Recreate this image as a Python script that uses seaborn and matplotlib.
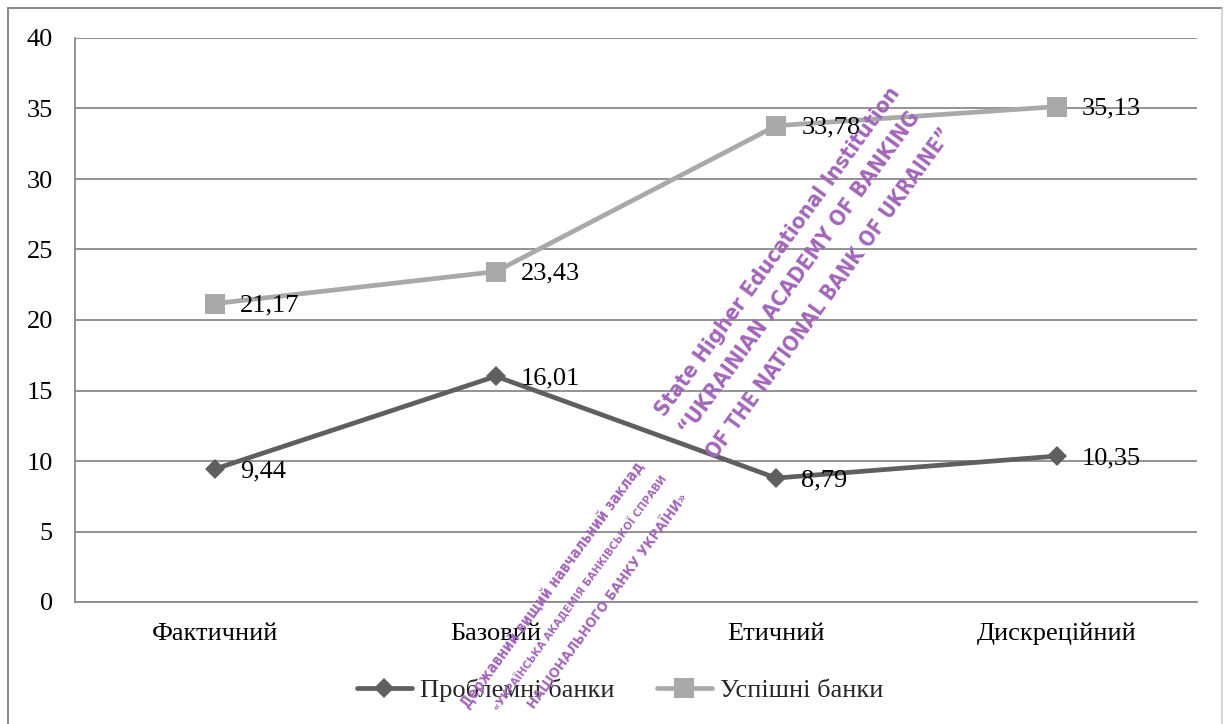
import matplotlib
matplotlib.use("Agg")
import os
import matplotlib.pyplot as plt
import seaborn as sns
import pandas as pd
from matplotlib.lines import Line2D
from matplotlib import font_manager as fm

categories = ["Фактичний", "Базовий", "Етичний", "Дискреційний"]
problem_banks = [9.44, 16.01, 8.79, 10.35]
success_banks = [21.17, 23.43, 33.78, 35.13]
series_names = ["Проблемні банки", "Успішні банки"]
yticks = [0, 5, 10, 15, 20, 25, 30, 35, 40]

sns.set_theme(style="white")
plt.rcParams['font.family'] = ['Liberation Serif', 'DejaVu Serif']

W, H = 1225, 724
fig = plt.figure(figsize=(W / 100, H / 100), dpi=100)
ax = fig.add_axes([75 / W, 1 - 602 / H, (1197 - 75) / W, (602 - 38) / H])

df = pd.DataFrame({
    "val": problem_banks + success_banks,
    "series": [series_names[0]] * 4 + [series_names[1]] * 4,
})
df["x"] = list(range(4)) * 2

dark = "#5f5f5f"
light = "#a9a9a9"
sns.lineplot(data=df[df.series == series_names[0]], x="x", y="val", ax=ax,
             color=dark, lw=3.4, marker="D", markersize=10, markeredgewidth=0,
             sort=False, legend=False, zorder=4)
sns.lineplot(data=df[df.series == series_names[1]], x="x", y="val", ax=ax,
             color=light, lw=3.4, marker="s", markersize=14, markeredgewidth=0,
             sort=False, legend=False, zorder=4)

for vals in (problem_banks, success_banks):
    for i, v in enumerate(vals):
        ax.annotate(f"{v:.2f}".replace(".", ","), (i, v), xytext=(18, -1.5),
                    textcoords="offset points", ha="left", va="center", fontsize=19,
                    color="black", zorder=6)

ax.set_xlim(-0.5, 3.5)
ax.set_ylim(0, 40)
ax.set_yticks(yticks)
ax.set_yticklabels([str(t) for t in yticks])
ax.set_xticks(range(4))
ax.set_xticklabels(categories)
ax.set_xlabel("")
ax.set_ylabel("")
ax.tick_params(axis="both", length=0, labelsize=19, colors="black")
ax.tick_params(axis="y", pad=16)
ax.tick_params(axis="x", pad=15)
ax.yaxis.grid(True, color="#8a8a8a", lw=1.3)
ax.set_axisbelow(True)
for s in ["top", "right"]:
    ax.spines[s].set_visible(False)
for s in ["left", "bottom"]:
    ax.spines[s].set_color("#8a8a8a")
    ax.spines[s].set_linewidth(1.3)

handles = [
    Line2D([], [], color=dark, lw=3.4, marker="D", markersize=10, markeredgewidth=0),
    Line2D([], [], color=light, lw=3.4, marker="s", markersize=14, markeredgewidth=0),
]
fig.legend(handles, series_names, loc="center", bbox_to_anchor=(620 / W, 1 - 690 / H),
           ncol=2, frameon=False, fontsize=19, handlelength=2.1, handletextpad=0.3,
           columnspacing=1.6)

# outer frame
fc = "#8c8c8c"
fig.add_artist(Line2D([8 / W, 8 / W], [-0.05, 1 - 8 / H], transform=fig.transFigure, color=fc, lw=1.5))
fig.add_artist(Line2D([8 / W, 1222 / W], [1 - 8 / H, 1 - 8 / H], transform=fig.transFigure, color=fc, lw=1.5))
fig.add_artist(Line2D([1222 / W, 1222 / W], [-0.05, 1 - 8 / H], transform=fig.transFigure, color="#d0d0d0", lw=1.2))


# watermark stamp: pick a condensed bold sans font if one is installed
def pick_condensed():
    best, best_score = None, -1
    for f in fm.fontManager.ttflist:
        low = os.path.basename(f.fname).lower()
        if "italic" in low or "mono" in low or "serif" in low:
            continue
        try:
            wt = int(f.weight)
        except Exception:
            wt = 700 if "bold" in str(f.weight) else 400
        if wt < 600 or "extrabold" in low or "black" in low:
            continue
        score = -1
        if "extracondensedbold" in low and "notosans-" in low:
            score = 5
        elif "condensedbold" in low and "semi" not in low and "notosans-" in low:
            score = 4
        elif "liberationsansnarrow-bold" in low:
            score = 3
        elif f.stretch not in ("normal", 500) and "sans" in low:
            score = 2
        if score > best_score:
            best, best_score = f.fname, score
    return best


cond = pick_condensed()
if cond:
    wm_base = dict(fontproperties=fm.FontProperties(fname=cond))
else:
    wm_base = dict(family=["DejaVu Sans"], fontweight="bold")

wm_color = "#a266b9"
ang = 54
renderer = fig.canvas.get_renderer()


def fit_size(t, target_len):
    probe = fig.text(0, 0, t, **wm_base)
    probe.set_fontsize(20)
    w = probe.get_window_extent(renderer).width
    probe.remove()
    return 20 * target_len / w


def stamp_text(t, px, py, ha, size):
    tx = fig.text(px / W, 1 - py / H, t, rotation=ang, rotation_mode="anchor",
                  ha=ha, va="center", color=wm_color, zorder=10, **wm_base)
    tx.set_fontsize(size)


en_lines = ["State Higher Educational Institution",
            "“UKRAINIAN ACADEMY OF BANKING",
            "OF THE NATIONAL BANK OF UKRAINE”"]
en_centers = [(778, 252), (800, 273), (830, 294)]
en_lens = [402, 396, 402]
for t, (px, py), L in zip(en_lines, en_centers, en_lens):
    stamp_text(t, px, py, "center", fit_size(t, L))

ua_lines = ["Державний вищий навчальний заклад",
            "«УКРАЇНСЬКА АКАДЕМІЯ БАНКІВСЬКОЇ СПРАВИ",
            "НАЦІОНАЛЬНОГО БАНКУ УКРАЇНИ»"]
ua_ends = [(641, 463), (664, 476), (684, 494)]
ua_lens = [300, 286, 264]
for t, (px, py), L in zip(ua_lines, ua_ends, ua_lens):
    stamp_text(t, px, py, "right", fit_size(t, L))

fig.savefig("out.png", dpi=100)
